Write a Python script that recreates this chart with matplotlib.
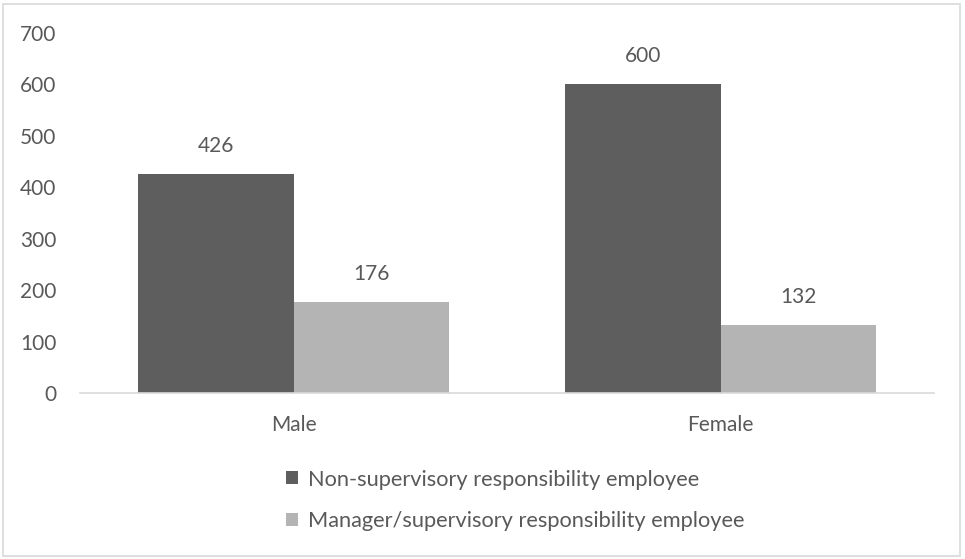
import numpy as np
import matplotlib.pyplot as plt
from matplotlib.patches import Rectangle

categorias = ['Male', 'Female']
series = ['Non-supervisory responsibility employee',
          'Manager/supervisory responsibility employee']
no_supervisor = [426, 600]
supervisor = [176, 132]
colores = ['#5e5e5e', '#b4b4b4']

plt.rcParams['font.family'] = ['Lato', 'DejaVu Sans']
texto = '#595959'
tam = 15

fig = plt.figure(figsize=(9.65, 5.59), dpi=100)
ax = fig.add_axes([80 / 965, 1 - 393 / 559, 854 / 965, 360 / 559])

x = np.arange(len(categorias))
ancho = 0.364
barras1 = ax.bar(x - ancho / 2, no_supervisor, ancho, color=colores[0], label=series[0])
barras2 = ax.bar(x + ancho / 2, supervisor, ancho, color=colores[1], label=series[1])

# Etiquetas de valores
for barras in (barras1, barras2):
    for b in barras:
        ax.annotate(str(int(b.get_height())), (b.get_x() + b.get_width() / 2, b.get_height()),
                    xytext=(0, 13), textcoords='offset points', ha='center', va='bottom',
                    fontsize=tam, color=texto)

ax.set_xlim(-0.5, 1.5)
ax.set_ylim(0, 700)
ax.set_yticks(range(0, 701, 100))
ax.set_xticks(x)
ax.set_xticklabels(categorias)
ax.tick_params(axis='both', length=0, labelsize=tam, colors=texto)
ax.tick_params(axis='y', pad=17)
ax.tick_params(axis='x', pad=16)
for lado in ['top', 'right', 'left']:
    ax.spines[lado].set_visible(False)
ax.spines['bottom'].set_color('#d9d9d9')
ax.spines['bottom'].set_linewidth(1.2)

leg = fig.legend(loc='upper center', bbox_to_anchor=(515 / 965, 1 - 450 / 559), ncol=1,
                 frameon=False, fontsize=15.7, handlelength=0.55, handleheight=0.55,
                 handletextpad=0.45, labelspacing=1.0, alignment='left')
for t in leg.get_texts():
    t.set_color(texto)

# Borde del gráfico
fig.patches.append(Rectangle((3 / 965, 3 / 559), 957 / 965, 552 / 559, transform=fig.transFigure,
                             fill=False, edgecolor='#d9d9d9', linewidth=1.2))

fig.savefig('out.png', dpi=100)
